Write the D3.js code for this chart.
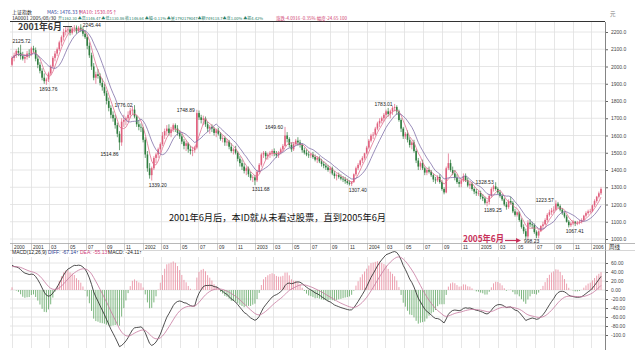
<!DOCTYPE html>
<html><head><meta charset="utf-8">
<script src="https://cdn.jsdelivr.net/npm/d3@7"></script>
<style>body{margin:0;background:#fff}svg{display:block}</style>
</head><body><svg id="c" width="640" height="356"></svg>
<script>
// ---- DATA (weekly bars of 上证指数, [open, high, low, close]) ----
const firstWeek = "2000-11-01";
const weeklyBars = [
[2010,2060,2000,2050],[2050,2080,2030,2065],[2065,2100,2050,2090],[2090,2110,2060,2080],[2080,2126,2040,2060],
[2060,2085,2035,2045],[2045,2070,2020,2055],[2055,2090,2040,2075],[2075,2100,2050,2073],[2073,2115,2060,2105],
[2105,2120,2080,2095],[2095,2110,2030,2045],[2045,2060,1990,2010],[2010,2025,1960,1975],[1975,1990,1920,1935],
[1935,1960,1900,1915],[1915,1935,1894,1925],[1925,1970,1910,1960],[1960,2010,1950,2000],[2000,2060,1990,2050],
[2050,2090,2030,2075],[2075,2110,2060,2100],[2100,2150,2090,2140],[2140,2180,2120,2170],[2170,2220,2150,2200],
[2200,2230,2180,2210],[2210,2235,2190,2215],[2215,2230,2180,2195],[2195,2230,2185,2220],[2220,2240,2200,2225],
[2225,2238,2190,2205],[2205,2235,2195,2225],[2225,2245,2200,2215],[2215,2230,2175,2190],[2190,2210,2160,2170],
[2170,2185,2100,2120],[2120,2140,2050,2065],[2065,2080,1980,2000],[2000,2020,1920,1935],[1935,1970,1900,1955],
[1955,1985,1930,1945],[1945,1960,1890,1905],[1905,1930,1860,1880],[1880,1900,1830,1845],[1845,1860,1780,1800],
[1800,1820,1740,1760],[1760,1775,1700,1720],[1720,1740,1680,1700],[1700,1720,1640,1660],[1660,1675,1590,1610],
[1610,1625,1515,1560],[1560,1700,1540,1680],[1680,1720,1650,1690],[1690,1710,1660,1700],[1700,1740,1680,1720],
[1720,1760,1700,1745],[1745,1770,1720,1750],[1750,1776,1700,1710],[1710,1720,1650,1665],[1665,1690,1630,1650],
[1650,1670,1620,1646],[1646,1650,1560,1575],[1575,1590,1470,1490],[1490,1510,1390,1410],[1410,1440,1350,1370],
[1370,1420,1339,1410],[1410,1480,1400,1470],[1470,1500,1440,1490],[1490,1530,1470,1520],[1520,1560,1500,1550],
[1550,1620,1540,1600],[1600,1640,1580,1625],[1625,1660,1600,1640],[1640,1665,1600,1615],[1615,1650,1590,1635],
[1635,1670,1620,1660],[1660,1670,1620,1640],[1640,1660,1600,1615],[1615,1630,1580,1595],[1595,1610,1550,1565],
[1565,1580,1520,1540],[1540,1570,1510,1555],[1555,1560,1500,1520],[1520,1540,1490,1510],[1510,1535,1480,1515],
[1515,1540,1500,1530],[1530,1749,1520,1730],[1730,1745,1690,1705],[1705,1720,1670,1690],[1690,1715,1660,1700],
[1700,1710,1650,1665],[1665,1680,1620,1640],[1640,1660,1610,1650],[1650,1665,1620,1640],[1640,1650,1600,1615],
[1615,1640,1590,1630],[1630,1645,1600,1610],[1610,1620,1570,1580],[1580,1600,1560,1585],[1585,1595,1540,1560],
[1560,1580,1540,1565],[1565,1575,1520,1535],[1535,1555,1500,1510],[1510,1530,1490,1520],[1520,1540,1490,1500],
[1500,1510,1450,1465],[1465,1480,1420,1440],[1440,1460,1400,1420],[1420,1440,1380,1395],[1395,1420,1370,1410],
[1410,1420,1360,1375],[1375,1390,1340,1355],[1355,1370,1330,1357],[1357,1370,1312,1340],[1340,1400,1330,1390],
[1390,1440,1380,1430],[1430,1500,1420,1490],[1490,1510,1470,1500],[1500,1510,1460,1480],[1480,1500,1460,1490],
[1490,1510,1470,1500],[1500,1520,1480,1510],[1510,1525,1480,1495],[1495,1510,1470,1485],[1485,1510,1470,1500],
[1500,1530,1490,1520],[1520,1550,1510,1540],[1540,1650,1535,1600],[1600,1620,1560,1580],[1580,1590,1530,1545],
[1545,1560,1505,1520],[1520,1560,1510,1550],[1550,1580,1540,1570],[1570,1590,1540,1560],[1560,1575,1530,1545],
[1545,1555,1500,1515],[1515,1530,1490,1500],[1500,1520,1480,1490],[1490,1510,1470,1485],[1485,1500,1470,1490],
[1490,1505,1465,1475],[1475,1490,1450,1460],[1460,1480,1440,1470],[1470,1480,1440,1450],[1450,1465,1420,1435],
[1435,1450,1410,1425],[1425,1440,1400,1415],[1415,1430,1390,1400],[1400,1420,1380,1410],[1410,1420,1370,1380],
[1380,1395,1350,1365],[1365,1380,1340,1370],[1370,1385,1350,1360],[1360,1375,1340,1350],[1350,1365,1330,1345],
[1345,1360,1320,1335],[1335,1350,1315,1325],[1325,1340,1310,1320],[1320,1335,1307,1330],[1330,1380,1325,1375],
[1375,1420,1365,1410],[1410,1440,1400,1430],[1430,1460,1420,1455],[1455,1480,1440,1470],[1470,1500,1460,1497],
[1497,1540,1490,1530],[1530,1580,1520,1570],[1570,1610,1560,1600],[1600,1620,1580,1605],[1605,1650,1600,1640],
[1640,1680,1630,1670],[1670,1700,1650,1685],[1685,1710,1670,1700],[1700,1730,1680,1720],[1720,1750,1700,1740],
[1740,1760,1710,1725],[1725,1750,1700,1740],[1740,1770,1720,1760],[1760,1783,1740,1765],[1765,1775,1720,1740],
[1740,1750,1680,1690],[1690,1700,1620,1640],[1640,1650,1580,1595],[1595,1620,1580,1610],[1610,1630,1560,1575],
[1575,1590,1530,1545],[1545,1570,1520,1560],[1560,1575,1500,1510],[1510,1520,1440,1455],[1455,1470,1400,1420],
[1420,1450,1400,1440],[1440,1460,1400,1410],[1410,1420,1370,1385],[1385,1410,1370,1400],[1400,1420,1380,1390],
[1390,1400,1360,1370],[1370,1380,1330,1345],[1345,1360,1320,1340],[1340,1370,1330,1360],[1360,1375,1320,1330],
[1330,1340,1280,1290],[1290,1300,1259,1270],[1270,1420,1265,1410],[1410,1496,1400,1440],[1440,1460,1390,1400],
[1400,1420,1370,1380],[1380,1400,1340,1355],[1355,1375,1320,1330],[1330,1345,1300,1320],[1320,1350,1300,1340],
[1340,1380,1330,1365],[1365,1380,1330,1340],[1340,1355,1300,1310],[1310,1330,1290,1320],[1320,1330,1280,1290],
[1290,1300,1260,1275],[1275,1290,1250,1265],[1265,1280,1250,1266],[1266,1280,1230,1245],[1245,1260,1220,1235],
[1235,1245,1200,1210],[1210,1225,1189,1215],[1215,1260,1200,1250],[1250,1300,1240,1290],[1290,1315,1275,1305],
[1305,1329,1280,1290],[1290,1300,1260,1270],[1270,1285,1240,1250],[1250,1260,1220,1230],[1230,1240,1190,1200],
[1200,1215,1170,1185],[1185,1230,1175,1220],[1220,1245,1200,1210],[1210,1220,1150,1160],[1160,1175,1130,1140],
[1140,1160,1130,1155],[1155,1160,1100,1110],[1110,1120,1060,1070],[1070,1085,1030,1045],[1045,1060,1000,1015],
[1015,1110,998,1095],[1095,1115,1070,1085],[1085,1100,1060,1080],[1080,1090,1030,1040],[1040,1050,1005,1020],
[1020,1050,1004,1045],[1045,1080,1040,1075],[1075,1100,1060,1085],[1085,1120,1080,1110],[1110,1150,1100,1140],
[1140,1170,1130,1155],[1155,1180,1140,1165],[1165,1190,1150,1170],[1170,1224,1165,1205],[1205,1215,1180,1190],
[1190,1200,1160,1170],[1170,1180,1140,1150],[1150,1160,1120,1130],[1130,1140,1095,1100],[1100,1110,1067,1080],
[1080,1100,1070,1090],[1090,1110,1080,1100],[1100,1105,1075,1090],[1090,1105,1080,1095],[1095,1110,1085,1100],
[1100,1120,1090,1110],[1110,1140,1100,1135],[1135,1160,1125,1150],[1150,1170,1140,1160],[1160,1175,1150,1161],
[1161,1200,1155,1195],[1195,1230,1185,1220],[1220,1250,1210,1245],[1245,1275,1235,1265],[1265,1300,1255,1290]
];
const priceTicks = [2200,2100,2000,1900,1800,1700,1600,1500,1400,1300,1200,1100,1000];
const macdTicks = [60,40,20,0,-20,-40,-60,-80,-100];
const macdTickLabels = ["60.00","40.00","20.00","0.00","-20.00","-40.00","-60.00","-80.00","-100.0"];
const timeTickLabels = ["2000","2001","03","05","07","09","11","2002","03","05","07","09","11","2003","03","05","07","09","11",
  "2004","03","05","07","09","11","2005","03","05","07","09","11","2006"];
const pivotWeeks = [4,16,32,50,57,65,86,113,127,158,178,221,225,240,253,259];
const pivotKinds = ["hi","lo","hi","lo","hi","lo","hi","lo","hi","lo","hi","lo","hi","lo","hi","lo"];
const pivotTexts = ["2125.72","1893.76","2245.44","1514.86","1776.02","1339.20","1748.89","1311.68","1649.60","1307.40","1783.01","1189.25","1328.53","998.23","1223.57","1067.41"];
const macdSeed = [55, 52]; // DIFF, DEA at first week
const maPeriods = [5, 10];

// ---- LAYOUT ----
const svg = d3.select("#c");
const L = 10, R = 605, mTop = 22, mBot = 243, dTop = 257, dBot = 348;
const fontNum = "'Liberation Sans', Arial, sans-serif";
const fontCJK = "'Noto Sans CJK SC', sans-serif";
const start = d3.timeParse("%Y-%m-%d")(firstWeek);
const x = d3.scaleTime().domain([start, new Date(2006,1,14)]).range([12, 605]);
const y = d3.scaleLinear().domain([1000,2200]).range([239,32]);
const ym = d3.scaleLinear().domain([-100,60]).range([335,263]);
const bars = weeklyBars.map((b,i)=>({date:d3.timeDay.offset(start,7*i),o:b[0],h:b[1],l:b[2],c:b[3]}));
const tickDates = [start].concat(d3.timeMonth.range(new Date(2001,0,1), new Date(2006,0,2), 2));

// ---- GRID ----
const grid = svg.append("g").attr("stroke","#e0e0e0").attr("stroke-width",0.8);
priceTicks.forEach(v=>grid.append("line").attr("x1",L).attr("x2",R).attr("y1",y(v)).attr("y2",y(v)));
macdTicks.forEach(v=>grid.append("line").attr("x1",L).attr("x2",R).attr("y1",ym(v)).attr("y2",ym(v)));
tickDates.forEach(d=>{
  const xx = Math.round(x(d))+0.5;
  grid.append("line").attr("x1",xx).attr("x2",xx).attr("y1",mTop).attr("y2",mBot);
  grid.append("line").attr("x1",xx).attr("x2",xx).attr("y1",dTop).attr("y2",dBot);
});

// ---- CANDLES ----
const cg = svg.append("g");
const upC = "#e0607e", dnC = "#2f7d3f";
bars.forEach(b=>{
  const xx = x(b.date), col = b.c>=b.o?upC:dnC;
  cg.append("line").attr("x1",xx).attr("x2",xx).attr("y1",y(b.h)).attr("y2",y(b.l)).attr("stroke",col).attr("stroke-width",0.7);
  const top = y(Math.max(b.o,b.c)), bot = y(Math.min(b.o,b.c));
  cg.append("rect").attr("x",xx-0.8).attr("width",1.6).attr("y",top).attr("height",Math.max(0.6,bot-top)).attr("fill",col);
});

// ---- MOVING AVERAGES ----
const closes = bars.map(b=>b.c);
const maColors = ["#e0708f","#8070a8"];
maPeriods.forEach((n,k)=>{
  const pts = bars.map((b,i)=> [x(b.date), y(d3.mean(closes.slice(Math.max(0,i-n+1),i+1)))]);
  svg.append("path").attr("d",d3.line()(pts)).attr("fill","none").attr("stroke",maColors[k]).attr("stroke-width",0.8);
});

// ---- MACD ----
let e12 = closes[0], e26 = closes[0]-macdSeed[0], dea = macdSeed[1];
const macd = bars.map((b,i)=>{
  if(i>0){ e12 = e12*11/13 + b.c*2/13; e26 = e26*25/27 + b.c*2/27; }
  const diff = e12-e26;
  if(i>0) dea = dea*8/10 + diff*2/10;
  return {date:b.date, diff, dea, bar:2*(diff-dea)};
});
const mg = svg.append("g");
macd.forEach(m=>{
  const xx = x(m.date);
  mg.append("line").attr("x1",xx).attr("x2",xx).attr("y1",ym(0)).attr("y2",ym(m.bar))
    .attr("stroke", m.bar>=0?"#e8869a":"#5aa35e").attr("stroke-width",0.8);
});
svg.append("path").attr("d",d3.line().x(m=>x(m.date)).y(m=>ym(m.diff))(macd)).attr("fill","none").attr("stroke","#222").attr("stroke-width",0.8);
svg.append("path").attr("d",d3.line().x(m=>x(m.date)).y(m=>ym(m.dea))(macd)).attr("fill","none").attr("stroke","#c7799e").attr("stroke-width",0.8);

// ---- AXES ----
const ax = svg.append("g");
ax.append("line").attr("x1",R+0.5).attr("x2",R+0.5).attr("y1",mTop).attr("y2",dBot+2).attr("stroke","#666").attr("stroke-width",0.8);
ax.append("line").attr("x1",L).attr("x2",R).attr("y1",mTop-0.5).attr("y2",mTop-0.5).attr("stroke","#333").attr("stroke-width",1.2);
ax.append("line").attr("x1",L).attr("x2",R+30).attr("y1",mBot+0.5).attr("y2",mBot+0.5).attr("stroke","#999").attr("stroke-width",0.7);
ax.append("line").attr("x1",L).attr("x2",R+30).attr("y1",mBot+7.5).attr("y2",mBot+7.5).attr("stroke","#bbb").attr("stroke-width",0.6);
const yAxis = d3.axisRight(y).tickValues(priceTicks).tickSize(2).tickFormat(d=>d.toFixed(1));
const yg = ax.append("g").attr("transform",`translate(${R+1},0)`).call(yAxis);
yg.select(".domain").remove();
yg.selectAll("text").attr("font-size",5).attr("fill","#444").attr("font-family",fontNum);
yg.selectAll("line").attr("stroke","#666");
const ymAxis = d3.axisRight(ym).tickValues(macdTicks).tickSize(2).tickFormat((d,i)=>macdTickLabels[i]);
const ymg = ax.append("g").attr("transform",`translate(${R+1},0)`).call(ymAxis);
ymg.select(".domain").remove();
ymg.selectAll("text").attr("font-size",5).attr("fill","#444").attr("font-family",fontNum);
ymg.selectAll("line").attr("stroke","#666");
tickDates.forEach((d,i)=>{
  const xx = Math.round(x(d))+0.5;
  ax.append("line").attr("x1",xx).attr("x2",xx).attr("y1",mBot).attr("y2",mBot+7).attr("stroke","#aaa").attr("stroke-width",0.6);
  ax.append("text").attr("x",xx+1.5).attr("y",mBot+5.5).attr("font-size",4.8).attr("fill","#333").attr("font-family",fontNum).text(timeTickLabels[i]);
});
ax.append("text").attr("x",R+4).attr("y",mBot+6).attr("font-size",5.5).attr("fill","#222").attr("font-family",fontCJK).text("周线");
ax.append("text").attr("x",R+5).attr("y",16).attr("font-size",5.5).attr("fill","#777").attr("font-family",fontCJK).text("元");

// ---- PIVOT LABELS ----
const pl = svg.append("g").attr("font-size",5).attr("fill","#222").attr("font-family",fontNum);
pivotWeeks.forEach((w,k)=>{
  const b = bars[w], xx = x(b.date);
  const t = pl.append("text").text(pivotTexts[k]);
  if(pivotKinds[k]==="hi"){
    if(k===0) t.attr("x",xx+1).attr("y",y(b.h)-2).attr("text-anchor","middle");
    else if(k===2) t.attr("x",xx+2).attr("y",y(b.h)+2.5).attr("text-anchor","start");
    else t.attr("x",xx-2).attr("y",y(b.h)+2).attr("text-anchor","end");
  } else {
    if(k===1) t.attr("x",xx+2).attr("y",y(b.l)+6).attr("text-anchor","middle");
    else if(k===3) t.attr("x",xx-1).attr("y",y(b.l)+6).attr("text-anchor","end");
    else if(k===13) t.attr("x",xx-4).attr("y",y(b.l)+3.3).attr("text-anchor","start");
    else t.attr("x",xx-3).attr("y",y(b.l)+6).attr("text-anchor","start");
  }
});

// ---- HEADER TEXT ----
const hd = svg.append("g").attr("font-family",fontCJK);
hd.append("text").attr("x",12).attr("y",13.5).attr("font-size",5).attr("fill","#222").text("上证指数");
hd.append("text").attr("x",47).attr("y",13.5).attr("font-size",5).attr("fill","#3a4aa0").text("MA5: 1476.33↑");
hd.append("text").attr("x",79).attr("y",13.5).attr("font-size",5).attr("fill","#d0407a").text("MA10: 1530.05↑");
hd.append("text").attr("x",12).attr("y",19.5).attr("font-size",4.4).attr("fill","#222").attr("textLength",44).attr("lengthAdjust","spacingAndGlyphs").text("1A0001 2005/08/30");
hd.append("text").attr("x",58).attr("y",19.5).attr("font-size",4).attr("fill","#2a8068").attr("textLength",205).attr("lengthAdjust","spacingAndGlyphs")
  .text("开1162.30 ▲高1146.47 ▲低1130.86 收1146.64 ▲幅-0.11% ▲量1792179047▲额749118.7▲涨1.00% ▲振4.42%");
hd.append("text").attr("x",276).attr("y",19.5).attr("font-size",4.4).attr("fill","#d04070").attr("textLength",71).attr("lengthAdjust","spacingAndGlyphs")
  .text("涨跌-4.0916 -0.35% 幅度-24.65 100");
const mh = svg.append("g").attr("font-size",5).attr("font-family",fontNum);
mh.append("text").attr("x",12).attr("y",254).attr("fill","#222").text("MACD(12,26,9)");
mh.append("text").attr("x",48).attr("y",254).attr("fill","#2a3a90").text("DIFF: -67.14↑");
mh.append("text").attr("x",80).attr("y",254).attr("fill","#d0407a").text("DEA: -55.13↑");
mh.append("text").attr("x",108).attr("y",254).attr("fill","#222").text("MACD: -24.11↑");

// ---- ANNOTATIONS ----
svg.append("text").attr("x",18).attr("y",30).attr("font-size",9).attr("font-weight","bold").attr("fill","#3a3a3a")
  .attr("font-family",fontCJK).attr("textLength",44).attr("lengthAdjust","spacingAndGlyphs").text("2001年6月");
svg.append("line").attr("x1",63).attr("x2",72).attr("y1",26.5).attr("y2",26.5).attr("stroke","#444").attr("stroke-width",1);
svg.append("text").attr("x",169).attr("y",221).attr("font-size",9.2).attr("fill","#111").attr("font-family",fontCJK)
  .attr("textLength",217).attr("lengthAdjust","spacingAndGlyphs").text("2001年6月后，本ID就从未看过股票，直到2005年6月");
svg.append("text").attr("x",463).attr("y",242).attr("font-size",9.5).attr("font-weight","bold").attr("fill","#c8325a")
  .attr("font-family",fontCJK).attr("textLength",41).attr("lengthAdjust","spacingAndGlyphs").text("2005年6月");
svg.append("line").attr("x1",505).attr("x2",518).attr("y1",240.5).attr("y2",240.5).attr("stroke","#c8325a").attr("stroke-width",1.2);
svg.append("path").attr("d","M521,240.5 L516,238 L516,243 Z").attr("fill","#c8325a");
</script></body></html>
